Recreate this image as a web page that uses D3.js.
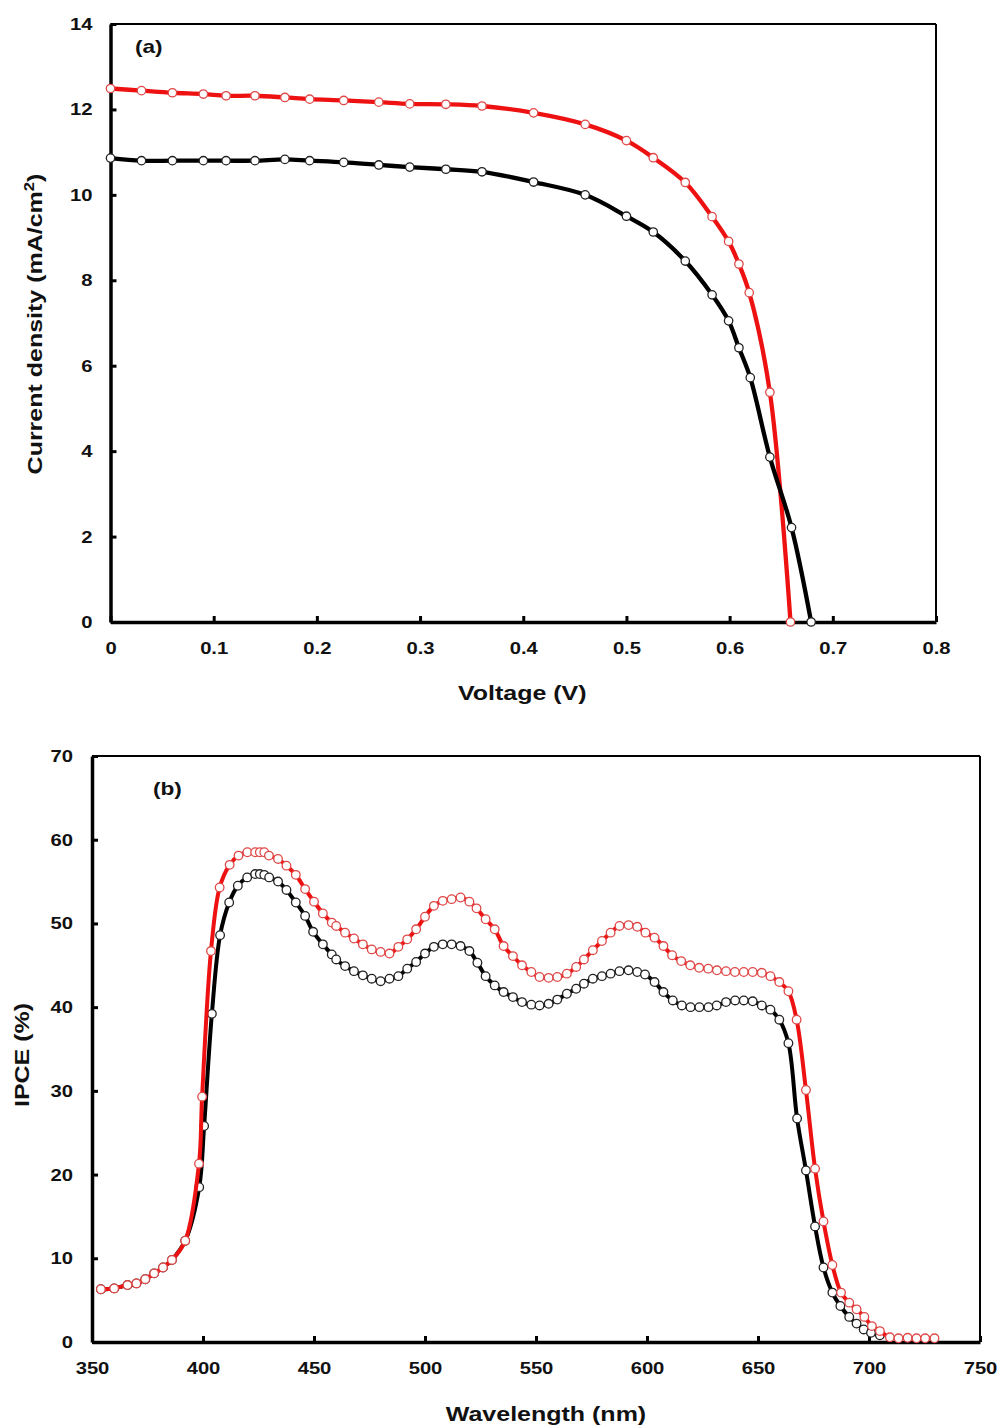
<!DOCTYPE html>
<html>
<head>
<meta charset="utf-8">
<script src="https://cdn.jsdelivr.net/npm/d3@7"></script>
<style>
  html, body { margin: 0; padding: 0; background: #fff; }
  svg { display: block; }
  text { font-family: "Liberation Sans", Arial, sans-serif; font-weight: bold; fill: #111; }
</style>
</head>
<body>
<svg id="chart" width="1001" height="1428"></svg>
<script>
// ---------- Panel (a): J-V curves ----------
const voltageRed   = [0, 0.03, 0.06, 0.09, 0.112, 0.14, 0.169, 0.193, 0.226, 0.26, 0.29, 0.325, 0.36, 0.41, 0.46, 0.5, 0.526, 0.557, 0.583, 0.599, 0.609, 0.619, 0.639, 0.659];
const currentRed   = [12.49, 12.44, 12.39, 12.36, 12.32, 12.32, 12.28, 12.24, 12.21, 12.17, 12.13, 12.12, 12.08, 11.92, 11.65, 11.27, 10.87, 10.29, 9.49, 8.91, 8.38, 7.71, 5.38, 0];
const voltageBlack = [0, 0.03, 0.06, 0.09, 0.112, 0.14, 0.169, 0.193, 0.226, 0.26, 0.29, 0.325, 0.36, 0.41, 0.46, 0.5, 0.526, 0.557, 0.583, 0.599, 0.609, 0.62, 0.639, 0.66, 0.679];
const currentBlack = [10.86, 10.8, 10.8, 10.8, 10.8, 10.8, 10.83, 10.8, 10.76, 10.7, 10.65, 10.6, 10.54, 10.3, 10.0, 9.5, 9.13, 8.45, 7.66, 7.05, 6.42, 5.72, 3.86, 2.21, 0];
const voltageTicks = [0, 0.1, 0.2, 0.3, 0.4, 0.5, 0.6, 0.7, 0.8];
const currentTicks = [0, 2, 4, 6, 8, 10, 12, 14];

// ---------- Panel (b): IPCE spectra ----------
const wlRed = [354, 360, 366, 370, 374, 378, 382, 386, 392, 398.2, 399.6, 403.6, 407.5, 412, 416, 420, 423.5, 425.6, 427.6, 429.7, 433.8, 437.6, 441.8, 446, 450, 454, 458, 460, 464, 468, 472, 476, 480, 484, 488, 492, 496, 500, 504, 508, 512, 516, 520, 523.2, 527.3, 531.4, 535.4, 539.6, 543.7, 547.9, 551.6, 555.7, 559.6, 563.9, 568.1, 571.6, 575.6, 579.7, 583.6, 587.6, 591.7, 595.6, 599.3, 603.4, 607.4, 611.3, 615.4, 619.5, 623.5, 627.6, 631.5, 635.6, 639.6, 643.6, 647.6, 651.7, 655.6, 659.6, 663.7, 667.4, 671.6, 675.7, 679.5, 683.5, 687.4, 691.1, 694.4, 697.9, 701.3, 704.9, 709.4, 713.3, 717.4, 721.4, 725.3, 729.5];
const ipceRed = [6.3, 6.4, 6.8, 7.0, 7.5, 8.2, 8.9, 9.8, 12.1, 21.3, 29.3, 46.7, 54.3, 57.0, 58.1, 58.5, 58.5, 58.5, 58.5, 58.1, 57.7, 56.9, 55.8, 54.1, 52.6, 51.2, 50.1, 49.7, 48.9, 48.2, 47.5, 46.9, 46.6, 46.4, 47.2, 48.1, 49.3, 50.8, 52.1, 52.7, 52.9, 53.1, 52.6, 51.8, 50.5, 49.3, 47.3, 46.1, 45.0, 44.2, 43.6, 43.5, 43.6, 44.0, 44.8, 45.7, 46.8, 47.9, 48.9, 49.7, 49.8, 49.6, 48.9, 48.3, 47.3, 46.2, 45.5, 45.0, 44.7, 44.6, 44.4, 44.3, 44.2, 44.2, 44.2, 44.1, 43.7, 43.0, 41.9, 38.5, 30.1, 20.7, 14.4, 9.2, 5.9, 4.7, 3.9, 3.0, 1.9, 1.3, 0.56, 0.44, 0.5, 0.44, 0.44, 0.44];
const wlBlack = [354, 360, 366, 370, 374, 378, 382, 386, 392, 398.3, 400.5, 404, 407.7, 411.8, 415.7, 419.9, 423.5, 425.6, 427.6, 429.8, 433.8, 437.6, 441.8, 446, 449.6, 454, 458, 460, 464, 468, 472, 476, 480, 484, 488, 492, 496, 500, 504, 508, 512, 516, 520, 523.6, 527.3, 531.4, 535.4, 539.6, 543.7, 547.9, 551.6, 555.7, 559.6, 563.9, 568.1, 571.6, 575.6, 579.7, 583.6, 587.6, 591.7, 595.6, 599.1, 603.4, 607.4, 611.6, 615.7, 619.6, 623.6, 627.7, 631.4, 635.6, 639.7, 643.6, 647.6, 651.7, 655.6, 659.6, 663.7, 667.6, 671.6, 675.7, 679.5, 683.5, 687.1, 691.1, 694.4, 697.6, 700.9, 704.9];
const ipceBlack = [6.3, 6.4, 6.8, 7.0, 7.5, 8.2, 8.9, 9.8, 12.1, 18.5, 25.8, 39.2, 48.6, 52.5, 54.5, 55.5, 55.9, 55.9, 55.8, 55.5, 55.0, 54.0, 52.5, 50.9, 49.0, 47.5, 46.3, 45.7, 44.9, 44.3, 43.8, 43.4, 43.1, 43.4, 43.7, 44.6, 45.4, 46.4, 47.2, 47.5, 47.5, 47.3, 46.7, 45.3, 43.7, 42.6, 41.8, 41.2, 40.6, 40.3, 40.2, 40.4, 40.9, 41.6, 42.2, 42.8, 43.4, 43.7, 44.0, 44.3, 44.4, 44.2, 43.9, 43.0, 41.8, 40.8, 40.2, 40.0, 40.0, 40.0, 40.2, 40.6, 40.8, 40.8, 40.7, 40.2, 39.7, 38.5, 35.7, 26.7, 20.5, 13.8, 8.9, 5.9, 4.3, 3.0, 2.2, 1.5, 1.1, 0.8];
const wlTicks = [350, 400, 450, 500, 550, 600, 650, 700, 750];
const ipceTicks = [0, 10, 20, 30, 40, 50, 60, 70];

const RED = "#ee1111";
const RED_MARK = "#e04848";
const BLACK = "#000000";
const SX = 1.19; // horizontal stretch of the lettering in the original

const svg = d3.select("#chart");

function panel(opts) {
  const x = d3.scaleLinear().domain(opts.xDomain).range([opts.left, opts.right]);
  const y = d3.scaleLinear().domain(opts.yDomain).range([opts.bottom, opts.top]);
  const g = svg.append("g");

  // frame (top / right thinner)
  g.append("line").attr("x1", opts.left).attr("x2", opts.right).attr("y1", opts.top).attr("y2", opts.top)
    .attr("stroke", "#000").attr("stroke-width", 2);
  g.append("line").attr("x1", opts.right).attr("x2", opts.right).attr("y1", opts.top).attr("y2", opts.bottom)
    .attr("stroke", "#000").attr("stroke-width", 2);

  // axes
  const xAxis = d3.axisBottom(x).tickValues(opts.xTicks).tickFormat(opts.xFmt)
    .tickSizeInner(-6).tickSizeOuter(0).tickPadding(opts.xPad);
  const yAxis = d3.axisLeft(y).tickValues(opts.yTicks).tickFormat(d3.format("d"))
    .tickSizeInner(-6).tickSizeOuter(0).tickPadding(opts.yPad);

  const gx = g.append("g").attr("transform", `translate(0,${opts.bottom})`).call(xAxis);
  const gy = g.append("g").attr("transform", `translate(${opts.left},0)`).call(yAxis);
  [gx, gy].forEach(a => {
    a.select(".domain").attr("stroke", "#000").attr("stroke-width", 3.5);
    a.selectAll(".tick line").attr("stroke", "#000").attr("stroke-width", 3);
    a.selectAll(".tick text").attr("font-size", 17).attr("font-family", "Liberation Sans, Arial, sans-serif")
      .attr("font-weight", "bold").attr("fill", "#111");
  });
  gx.selectAll(".tick line").attr("y2", -6);
  gy.selectAll(".tick line").attr("x2", 6);
  gx.selectAll(".tick text").attr("transform", `scale(${SX},1)`);
  gy.selectAll(".tick text").attr("x", -opts.yPad / SX).attr("transform", `scale(${SX},1)`);

  // series
  opts.series.forEach(s => {
    const pts = s.x.map((v, i) => [v, s.y[i]]);
    const line = d3.line().x(d => x(d[0])).y(d => y(d[1])).curve(d3.curveCatmullRom.alpha(0.5));
    g.append("path").datum(pts).attr("d", line).attr("fill", "none")
      .attr("stroke", s.color).attr("stroke-width", s.lw).attr("stroke-linejoin", "round");
    g.append("g").selectAll("circle").data(pts).join("circle")
      .attr("cx", d => x(d[0])).attr("cy", d => y(d[1])).attr("r", s.r)
      .attr("fill", "#fff").attr("stroke", s.mark).attr("stroke-width", 1.3);
  });

  // panel label
  g.append("text").attr("transform", `translate(${opts.labelX},${opts.labelY}) scale(${SX},1)`)
    .attr("font-size", 19).text(opts.label);

  // axis titles
  g.append("text")
    .attr("transform", `translate(${(opts.left + opts.right) / 2 + opts.xTitleDx},${opts.xTitleY}) scale(${SX},1)`)
    .attr("text-anchor", "middle").attr("font-size", 21).text(opts.xTitle);
  const yt = g.append("text")
    .attr("transform", `translate(${opts.yTitleX},${opts.yTitleY}) rotate(-90) scale(${SX},1)`)
    .attr("text-anchor", "middle").attr("font-size", 21);
  opts.yTitle(yt);
}

panel({
  left: 110.5, right: 936, top: 24, bottom: 622,
  xDomain: [0, 0.8], yDomain: [0, 14],
  xTicks: voltageTicks, yTicks: currentTicks,
  xFmt: d => d === 0 ? "0" : d3.format(".1f")(d),
  xPad: 20, yPad: 18,
  series: [
    { x: voltageRed, y: currentRed, color: RED, mark: RED_MARK, lw: 4.3, r: 4.2 },
    { x: voltageBlack, y: currentBlack, color: BLACK, mark: "#222", lw: 4.3, r: 4.2 }
  ],
  label: "(a)", labelX: 135, labelY: 53,
  xTitle: "Voltage (V)", xTitleDx: -1, xTitleY: 700,
  yTitleX: 42, yTitleY: 324,
  yTitle: t => {
    t.append("tspan").text("Current density (mA/cm");
    t.append("tspan").attr("dy", -8).attr("font-size", 14).text("2");
    t.append("tspan").attr("dy", 8).text(")");
  }
});

panel({
  left: 92, right: 980, top: 756, bottom: 1342,
  xDomain: [350, 750], yDomain: [0, 70],
  xTicks: wlTicks, yTicks: ipceTicks,
  xFmt: d3.format("d"),
  xPad: 20, yPad: 19,
  series: [
    { x: wlBlack, y: ipceBlack, color: BLACK, mark: "#222", lw: 4, r: 4.3 },
    { x: wlRed, y: ipceRed, color: RED, mark: RED_MARK, lw: 4, r: 4.3 }
  ],
  label: "(b)", labelX: 153, labelY: 795,
  xTitle: "Wavelength (nm)", xTitleDx: 10, xTitleY: 1421,
  yTitleX: 29, yTitleY: 1055,
  yTitle: t => { t.text("IPCE (%)"); }
});
</script>
</body>
</html>
